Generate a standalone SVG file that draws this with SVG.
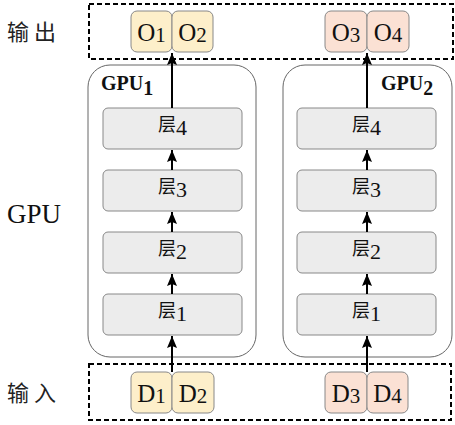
<svg xmlns="http://www.w3.org/2000/svg" width="455" height="425" viewBox="0 0 455 425">
<defs>
<marker id="ah" viewBox="0 0 12 10" refX="12" refY="5" markerWidth="12" markerHeight="10" orient="auto" markerUnits="userSpaceOnUse">
<path d="M0,0 L12,5 L0,10 L2,5 Z" fill="#000"/>
</marker>
<style>
.dash{fill:none;stroke:#000;stroke-width:2;stroke-dasharray:5,3}
.gpu{fill:#fff;stroke:#666;stroke-width:1}
.layer{fill:#ececec;stroke:#888;stroke-width:1}
.y{fill:#fdefca;stroke:#888;stroke-width:1}
.p{fill:#fbe1d4;stroke:#888;stroke-width:1}
.t{font-family:"Liberation Serif","Noto Sans CJK SC",serif;fill:#111}
.cjk{font-family:"Noto Sans CJK SC",serif;fill:#222}
.lab{font-family:"Liberation Serif",serif;font-weight:bold;fill:#111}
.arr{stroke:#000;stroke-width:2;fill:none;marker-end:url(#ah)}
</style>
</defs>
<rect width="455" height="425" fill="#fff"/>
<g id="side-labels">
<text class="cjk" x="7" y="40" font-size="22" letter-spacing="5">输出</text>
<text class="t" x="7" y="223" font-size="27">GPU</text>
<text class="cjk" x="7" y="401" font-size="22" letter-spacing="5">输入</text>
</g>
<g id="output-region"><rect class="dash" x="89" y="4" width="364" height="55"/></g>
<g id="input-region"><rect class="dash" x="89" y="364" width="362" height="56"/></g>
<g id="gpu1">
<rect class="gpu" x="88" y="65" width="168" height="292" rx="22"/>
<text class="lab" x="101" y="90" font-size="20">GPU<tspan font-size="20" dy="5">1</tspan></text>
</g>
<g id="gpu2">
<rect class="gpu" x="283" y="65" width="169" height="292" rx="22"/>
<text class="lab" x="381" y="90" font-size="20">GPU<tspan font-size="20" dy="5">2</tspan></text>
</g>
<g id="g1-layer4"><rect class="layer" x="103" y="108" width="139" height="41" rx="5"/><text class="t" x="172.5" y="131" font-size="18" text-anchor="middle">层<tspan font-size="22" dy="4">4</tspan></text></g>
<g id="g1-layer3"><rect class="layer" x="103" y="170" width="139" height="41" rx="5"/><text class="t" x="172.5" y="193" font-size="18" text-anchor="middle">层<tspan font-size="22" dy="4">3</tspan></text></g>
<g id="g1-layer2"><rect class="layer" x="103" y="232" width="139" height="41" rx="5"/><text class="t" x="172.5" y="255" font-size="18" text-anchor="middle">层<tspan font-size="22" dy="4">2</tspan></text></g>
<g id="g1-layer1"><rect class="layer" x="103" y="294" width="139" height="41" rx="5"/><text class="t" x="172.5" y="317" font-size="18" text-anchor="middle">层<tspan font-size="22" dy="4">1</tspan></text></g>
<g id="g2-layer4"><rect class="layer" x="297" y="108" width="139" height="41" rx="5"/><text class="t" x="366.5" y="131" font-size="18" text-anchor="middle">层<tspan font-size="22" dy="4">4</tspan></text></g>
<g id="g2-layer3"><rect class="layer" x="297" y="170" width="139" height="41" rx="5"/><text class="t" x="366.5" y="193" font-size="18" text-anchor="middle">层<tspan font-size="22" dy="4">3</tspan></text></g>
<g id="g2-layer2"><rect class="layer" x="297" y="232" width="139" height="41" rx="5"/><text class="t" x="366.5" y="255" font-size="18" text-anchor="middle">层<tspan font-size="22" dy="4">2</tspan></text></g>
<g id="g2-layer1"><rect class="layer" x="297" y="294" width="139" height="41" rx="5"/><text class="t" x="366.5" y="317" font-size="18" text-anchor="middle">层<tspan font-size="22" dy="4">1</tspan></text></g>
<g id="O1"><rect class="y" x="131" y="11" width="41" height="41" rx="6"/><text class="t" x="151.5" y="41" font-size="25" text-anchor="middle">O<tspan font-size="21" dy="1">1</tspan></text></g>
<g id="O2"><rect class="y" x="172" y="11" width="41" height="41" rx="6"/><text class="t" x="192.5" y="41" font-size="25" text-anchor="middle">O<tspan font-size="21" dy="1">2</tspan></text></g>
<g id="O3"><rect class="p" x="325" y="11" width="42" height="41" rx="6"/><text class="t" x="346" y="41" font-size="25" text-anchor="middle">O<tspan font-size="21" dy="1">3</tspan></text></g>
<g id="O4"><rect class="p" x="367" y="11" width="42" height="41" rx="6"/><text class="t" x="388" y="41" font-size="25" text-anchor="middle">O<tspan font-size="21" dy="1">4</tspan></text></g>
<g id="D1"><rect class="y" x="131" y="372" width="41" height="41" rx="6"/><text class="t" x="151.5" y="402" font-size="25" text-anchor="middle">D<tspan font-size="21" dy="1">1</tspan></text></g>
<g id="D2"><rect class="y" x="172" y="372" width="42" height="41" rx="6"/><text class="t" x="193" y="402" font-size="25" text-anchor="middle">D<tspan font-size="21" dy="1">2</tspan></text></g>
<g id="D3"><rect class="p" x="325" y="372" width="42" height="41" rx="6"/><text class="t" x="346" y="402" font-size="25" text-anchor="middle">D<tspan font-size="21" dy="1">3</tspan></text></g>
<g id="D4"><rect class="p" x="367" y="372" width="41" height="41" rx="6"/><text class="t" x="387.5" y="402" font-size="25" text-anchor="middle">D<tspan font-size="21" dy="1">4</tspan></text></g>
<g id="connectors">
<line class="arr" x1="172" y1="372" x2="172" y2="336"/>
<line class="arr" x1="172" y1="294" x2="172" y2="274"/>
<line class="arr" x1="172" y1="232" x2="172" y2="212"/>
<line class="arr" x1="172" y1="170" x2="172" y2="150"/>
<line class="arr" x1="172" y1="108" x2="172" y2="53"/>
<line class="arr" x1="367" y1="372" x2="367" y2="336"/>
<line class="arr" x1="367" y1="294" x2="367" y2="274"/>
<line class="arr" x1="367" y1="232" x2="367" y2="212"/>
<line class="arr" x1="367" y1="170" x2="367" y2="150"/>
<line class="arr" x1="367" y1="108" x2="367" y2="53"/>
</g>
</svg>
